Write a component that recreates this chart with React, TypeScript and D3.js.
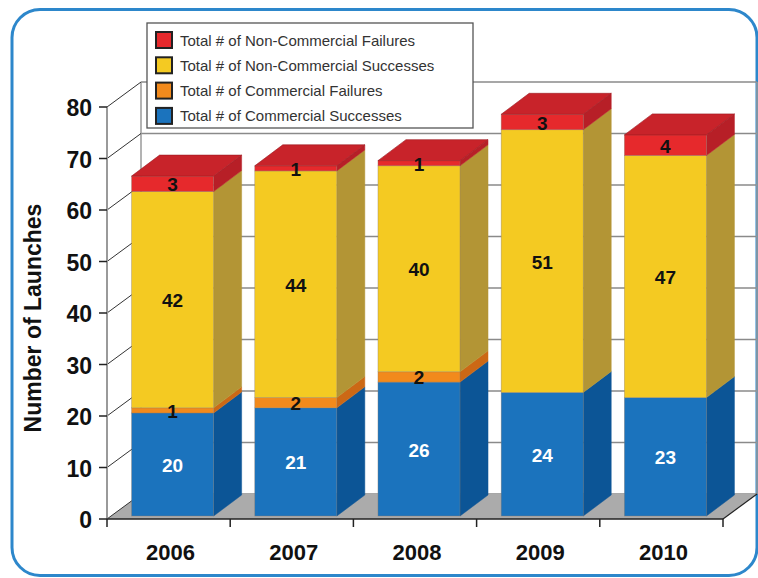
import React from "react";
import * as d3 from "d3";

const years = ["2006", "2007", "2008", "2009", "2010"];
const commercialSuccesses = [20, 21, 26, 24, 23];
const commercialFailures = [1, 2, 2, 0, 0];
const nonCommercialSuccesses = [42, 44, 40, 51, 47];
const nonCommercialFailures = [3, 1, 1, 3, 4];
const yTicks = [0, 10, 20, 30, 40, 50, 60, 70, 80];

const seriesNames = [
  "Total # of Commercial Successes",
  "Total # of Commercial Failures",
  "Total # of Non-Commercial Successes",
  "Total # of Non-Commercial Failures",
];
const seriesValues = [commercialSuccesses, commercialFailures, nonCommercialSuccesses, nonCommercialFailures];
const frontColors = ["#1b73bd", "#f28a1c", "#f4ca22", "#e6292c"];
const sideColors = ["#0c5596", "#cc6815", "#b39535", "#b71f27"];
const topColors = ["#2a82c8", "#f5a04a", "#f7d84e", "#c8232a"];
const labelColors = ["#ffffff", "#111111", "#111111", "#111111"];

const W = 758;
const H = 578;
const FONT = "'Liberation Sans', Arial, Helvetica, sans-serif";

export default function App() {
  const x0 = 107;
  const x1 = 723;
  const wallDX = 34;
  const wallDY = 25;
  const barOffX = 4;
  const barOffY = 3;
  const barDX = 28;
  const barDY = 21;

  const y = d3.scaleLinear().domain([0, 80]).range([519, 107]);
  const x = d3.scaleBand().domain(years).range([x0, x1]).paddingInner(0.334).paddingOuter(0.167);
  const step = x.step();

  const stackData = years.map((yr, i) => {
    const o: any = { year: yr };
    seriesValues.forEach((s, k) => (o["s" + k] = s[i]));
    return o;
  });
  const stack = d3.stack().keys(seriesValues.map((_, k) => "s" + k));
  const stacked = stack(stackData as any);

  const pts = (arr: number[][]) => arr.map((p) => p.join(",")).join(" ");

  const legendOrder = [3, 2, 1, 0];

  return (
    <svg width={W} height={H} style={{ display: "block", position: "absolute", left: 0, top: 0 }} fontFamily={FONT}>
      <rect x={0} y={0} width={W} height={H} fill="#ffffff" />
      <rect x={12} y={9.5} width={745} height={566} rx={28} ry={28} fill="#ffffff" stroke="#2d87cb" strokeWidth={3} />

      {/* back wall gridlines */}
      {yTicks.map((t) => (
        <line key={"g" + t} x1={x0 + wallDX} x2={x1 + wallDX} y1={y(t) - wallDY} y2={y(t) - wallDY} stroke="#8a8a8a" strokeWidth={1.5} />
      ))}
      <line x1={x0 + wallDX} x2={x0 + wallDX} y1={y(80) - wallDY} y2={y(0) - wallDY} stroke="#9a9a9a" strokeWidth={1.5} />
      <line x1={x1 + wallDX} x2={x1 + wallDX} y1={y(80) - wallDY} y2={y(0) - wallDY} stroke="#9a9a9a" strokeWidth={1.5} />

      {/* floor */}
      <polygon
        points={pts([
          [x0, y(0)],
          [x0 + wallDX, y(0) - wallDY],
          [x1 + wallDX, y(0) - wallDY],
          [x1, y(0)],
        ])}
        fill="#ababab"
      />
      <line x1={x1} y1={y(0)} x2={x1 + wallDX} y2={y(0) - wallDY} stroke="#222" strokeWidth={1.2} />

      {/* left wall diagonals */}
      {yTicks.map((t) => (
        <line key={"d" + t} x1={x0} y1={y(t)} x2={x0 + wallDX} y2={y(t) - wallDY} stroke="#333" strokeWidth={1} />
      ))}

      {/* y axis */}
      <line x1={x0} x2={x0} y1={y(80)} y2={y(0)} stroke="#9a9a9a" strokeWidth={2} />
      {yTicks.map((t) => (
        <g key={"t" + t}>
          <line x1={x0 - 8} x2={x0} y1={y(t)} y2={y(t)} stroke="#222" strokeWidth={1.5} />
          <text x={x0 - 15} y={y(t) + 1} textAnchor="end" dominantBaseline="central" fontSize={23} fontWeight="bold" fill="#111">
            {t}
          </text>
        </g>
      ))}

      {/* x axis */}
      <line x1={x0} x2={x1} y1={y(0)} y2={y(0)} stroke="#222" strokeWidth={1.5} />
      {d3.range(years.length + 1).map((i) => (
        <line key={"xt" + i} x1={x0 + i * step} x2={x0 + i * step} y1={y(0)} y2={y(0) + 8} stroke="#222" strokeWidth={1.5} />
      ))}
      {years.map((yr) => (
        <text key={"yl" + yr} x={(x(yr) as number) + x.bandwidth() / 2 + 2} y={560} textAnchor="middle" fontSize={22} fontWeight="bold" fill="#111">
          {yr}
        </text>
      ))}

      {/* bars */}
      {years.map((yr, i) => {
        const xl = (x(yr) as number) + barOffX;
        const xr = xl + x.bandwidth();
        const segs = stacked
          .map((s, k) => ({ k, lo: s[i][0], hi: s[i][1] }))
          .filter((s) => s.hi > s.lo);
        const top = segs[segs.length - 1];
        return (
          <g key={"b" + yr}>
            {segs.map((s) => {
              const yb = y(s.lo) - barOffY;
              const yt = y(s.hi) - barOffY;
              return (
                <g key={"s" + s.k}>
                  <polygon
                    points={pts([
                      [xr, yt],
                      [xr + barDX, yt - barDY],
                      [xr + barDX, yb - barDY],
                      [xr, yb],
                    ])}
                    fill={sideColors[s.k]}
                    stroke={sideColors[s.k]}
                    strokeWidth={0.5}
                  />
                  <rect x={xl} y={yt} width={xr - xl} height={yb - yt} fill={frontColors[s.k]} stroke="#8a7a6a" strokeWidth={0.6} strokeOpacity={0.6} />
                </g>
              );
            })}
            {top && (
              <polygon
                points={pts([
                  [xl, y(top.hi) - barOffY],
                  [xl + barDX, y(top.hi) - barOffY - barDY],
                  [xr + barDX, y(top.hi) - barOffY - barDY],
                  [xr, y(top.hi) - barOffY],
                ])}
                fill={topColors[top.k]}
                stroke="#9a1a20"
                strokeWidth={0.6}
              />
            )}
            {segs.map((s) => (
              <text
                key={"l" + s.k}
                x={(xl + xr) / 2}
                y={(y(s.lo) + y(s.hi)) / 2 - barOffY + 1}
                textAnchor="middle"
                dominantBaseline="central"
                fontSize={19}
                fontWeight="bold"
                fill={labelColors[s.k]}
              >
                {seriesValues[s.k][i]}
              </text>
            ))}
          </g>
        );
      })}

      {/* axis title */}
      <text transform="translate(33,318) rotate(-90)" textAnchor="middle" dominantBaseline="central" fontSize={23} fontWeight="bold" fill="#111">
        Number of Launches
      </text>

      {/* legend */}
      <rect x={147} y={23} width={326} height={105} fill="#ffffff" stroke="#555" strokeWidth={1.3} />
      {legendOrder.map((k, j) => {
        const cy = 40 + j * 25.3;
        return (
          <g key={"lg" + k}>
            <rect x={156} y={cy - 8} width={16} height={16} fill={frontColors[k]} stroke="#222" strokeWidth={2} />
            <text x={180} y={cy} dominantBaseline="central" fontSize={15} fill="#333">
              {seriesNames[k]}
            </text>
          </g>
        );
      })}
    </svg>
  );
}
